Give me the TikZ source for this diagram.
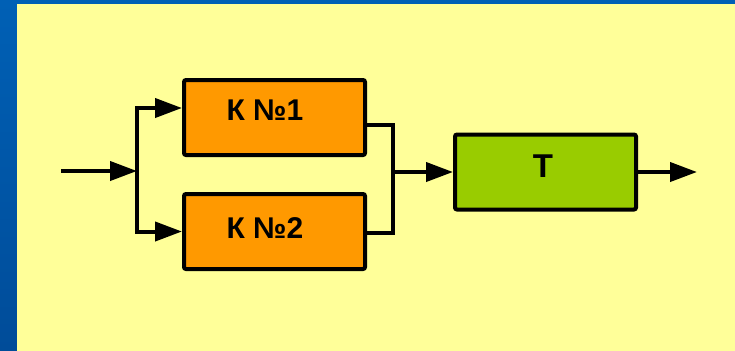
\documentclass[tikz,border=0pt]{standalone}
\usepackage{fontspec}
\setmainfont{Liberation Sans}
\usepackage{tikz}
\usetikzlibrary{calc}
\usetikzlibrary{positioning}
\usetikzlibrary{arrows.meta}
\definecolor{slideblue}{HTML}{0060B5}
\definecolor{slidebluedark}{HTML}{004C99}
\definecolor{slideyellow}{HTML}{FFFF99}
\definecolor{korange}{HTML}{FF9900}
\definecolor{tgreen}{HTML}{99CC00}
\tikzset{
  myline/.style={
    draw=black,
    line width=2pt,
  },
  myarrow/.style={
    myline,
    -{Triangle[length=13.5pt,width=9.5pt]},
  },
  myrectangle/.style={
    draw=black,
    shape=rectangle,
    line width=2pt,
    rounded corners=1pt,
    inner sep=0pt,
    minimum width=90.5pt,
    minimum height=37.5pt,
  },
  mytext/.style={
    font=\bfseries\fontsize{15}{18}\selectfont,
  },
}

\begin{document}
\begin{tikzpicture}[x=0.5pt, y=-0.5pt]
    \useasboundingbox (0,0) rectangle (735,350);
    % slide background
    \shade[top color=slideblue, bottom color=slidebluedark] (0,0) rectangle (735,350);
    \fill[slideyellow] (17,3.5) rectangle (745,360);

    \node[myrectangle, fill=korange] (k1) at (274.5,117.5)
      [label={[mytext, xshift=-4.75pt, yshift=3.5pt]center:К №1}] {};
    \node[myrectangle, fill=korange] (k2) [below=17.5pt of k1]
      [label={[mytext, xshift=-4.75pt, yshift=1.5pt]center:К №2}] {};

    \coordinate (input) at (61,171);
    \coordinate (fork)  at (137,171);
    \coordinate (merge) at (393,172);

    \node[myrectangle, fill=tgreen] (t) [right=30pt of merge]
      [label={[mytext, font=\bfseries\fontsize{16.5}{19}\selectfont, xshift=-1.25pt, yshift=2.75pt]center:Т}] {};
    \coordinate[right=29.5pt of t] (output);

    \draw[myarrow] (input) -- (fork);
    \draw[myarrow] (fork) |- ($(k1.west)+(0,-9.5)$);
    \draw[myarrow] (fork) |- (k2.west);

    \draw[myline] ($(k1.east)+(0,7.5)$) -| (merge) |- ($(k2.east)+(0,1.5)$);
    \draw[myarrow] (merge) -- (t.west);
    \draw[myarrow] (t.east) -- (output);
  \end{tikzpicture}
\end{document}
